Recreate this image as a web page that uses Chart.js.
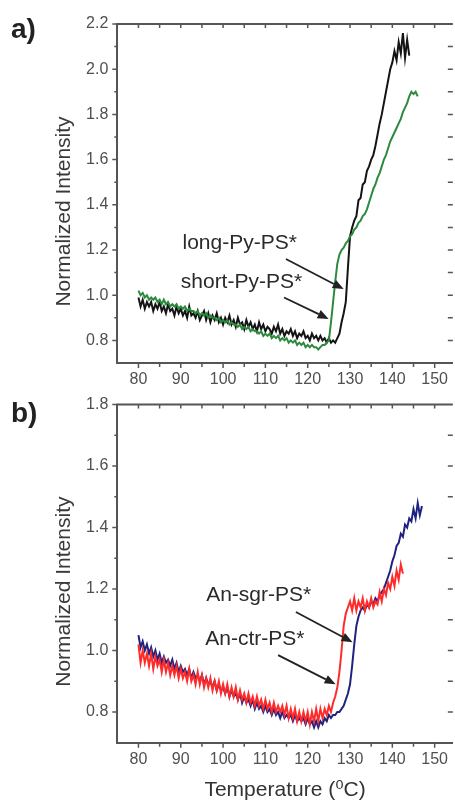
<!DOCTYPE html>
<html><head><meta charset="utf-8">
<script src="https://cdn.jsdelivr.net/npm/chart.js@4.4.1/dist/chart.umd.min.js"></script>
<style>
html,body{margin:0;padding:0;background:#fff;width:455px;height:801px;overflow:hidden}
canvas{position:absolute;left:0}
#ca{top:0}
#cb{top:386px}
</style></head><body>
<canvas id="ca" width="455" height="386"></canvas>
<canvas id="cb" width="455" height="415"></canvas>
<script>
// Temperature (°C), shared sampling of all four traces
const temps = [
80,80.5,81,81.5,82,82.5,83,83.5,84,84.5,85,85.5,86,86.5,87,87.5,88,88.5,89,89.5,
90,90.5,91,91.5,92,92.5,93,93.5,94,94.5,95,95.5,96,96.5,97,97.5,98,98.5,99,99.5,
100,100.5,101,101.5,102,102.5,103,103.5,104,104.5,105,105.5,106,106.5,107,107.5,108,108.5,109,109.5,
110,110.5,111,111.5,112,112.5,113,113.5,114,114.5,115,115.5,116,116.5,117,117.5,118,118.5,119,119.5,
120,120.5,121,121.5,122,122.5,123,123.5,124,124.5,125,125.5,126,126.5,127,127.5,128,128.5,129,129.5,
130,130.5,131,131.5,132,132.5,133,133.5,134,134.5,135,135.5,136,136.5,137,137.5,138,138.5,139,139.5,
140,140.5,141,141.5,142,142.5,143,143.5,144,144.5,145,145.5,146,146.5,147];

// Panel a
const longPyPS = [
0.99,0.95,0.98,0.94,0.97,0.95,0.97,0.93,0.96,0.94, 0.97,0.93,0.95,0.92,0.96,0.93,0.94,0.91,0.95,0.92,
0.94,0.91,0.93,0.90,0.95,0.91,0.92,0.90,0.93,0.89, 0.91,0.93,0.89,0.92,0.88,0.91,0.89,0.92,0.88,0.90,
0.87,0.90,0.88,0.91,0.87,0.89,0.86,0.90,0.87,0.88, 0.85,0.89,0.86,0.88,0.85,0.87,0.84,0.88,0.85,0.87,
0.84,0.86,0.85,0.83,0.86,0.84,0.87,0.83,0.85,0.82, 0.84,0.83,0.85,0.82,0.84,0.81,0.83,0.82,0.84,0.81,
0.82,0.80,0.83,0.81,0.82,0.80,0.82,0.80,0.81,0.79, 0.81,0.79,0.80,0.79,0.81,0.83,0.88,0.92,0.97,1.12,
1.26,1.30,1.33,1.35,1.42,1.43,1.49,1.50,1.55,1.57, 1.60,1.62,1.66,1.71,1.76,1.80,1.85,1.90,1.95,2.00,
2.03,2.08,2.04,2.12,2.07,2.16,2.05,2.13,2.06];
const shortPyPS = [
1.02,1.00,1.01,0.99,1.00,0.98,0.99,0.98,0.99,0.97, 0.98,0.96,0.98,0.96,0.97,0.95,0.96,0.95,0.96,0.94,
0.95,0.94,0.95,0.93,0.94,0.93,0.93,0.92,0.93,0.91, 0.92,0.91,0.92,0.90,0.91,0.90,0.90,0.89,0.90,0.88,
0.89,0.88,0.89,0.87,0.88,0.87,0.87,0.86,0.87,0.85, 0.86,0.85,0.86,0.84,0.85,0.84,0.84,0.83,0.84,0.82,
0.83,0.82,0.83,0.81,0.82,0.81,0.82,0.80,0.81,0.80, 0.81,0.79,0.80,0.79,0.80,0.78,0.79,0.78,0.79,0.77,
0.78,0.77,0.78,0.77,0.77,0.76,0.77,0.78,0.78,0.79, 0.80,0.88,0.97,1.06,1.14,1.18,1.20,1.21,1.23,1.24,
1.26,1.27,1.29,1.30,1.32,1.33,1.35,1.36,1.38,1.41, 1.44,1.47,1.49,1.52,1.54,1.57,1.60,1.62,1.65,1.68,
1.70,1.72,1.74,1.76,1.78,1.81,1.83,1.85,1.88,1.90,1.89,1.90,1.88];

// Panel b
const anCtrPS = [
1.02,0.96,1.00,0.96,0.99,0.95,0.99,0.94,0.98,0.95, 0.97,0.93,0.97,0.93,0.96,0.92,0.95,0.92,0.95,0.91,
0.94,0.91,0.93,0.90,0.94,0.90,0.92,0.89,0.93,0.89, 0.92,0.88,0.91,0.88,0.91,0.87,0.90,0.87,0.90,0.86,
0.89,0.86,0.89,0.85,0.88,0.85,0.88,0.84,0.87,0.84, 0.86,0.83,0.86,0.83,0.85,0.82,0.85,0.82,0.84,0.81,
0.84,0.81,0.83,0.80,0.83,0.80,0.82,0.80,0.82,0.79, 0.82,0.78,0.81,0.78,0.81,0.77,0.80,0.77,0.80,0.77,
0.80,0.76,0.80,0.77,0.81,0.77,0.81,0.78,0.81,0.79, 0.82,0.80,0.83,0.85,0.88,0.93,1.00,1.08,1.12,1.14,
1.16,1.13,1.17,1.13,1.16,1.14,1.17,1.13,1.16,1.14, 1.17,1.14,1.16,1.15,1.19,1.16,1.20,1.18,1.22,1.20,
1.24,1.21,1.26,1.23,1.28,1.25];
const anSgrPS = [
1.05,1.01,1.03,1.00,1.02,0.99,1.01,0.98,1.00,0.97, 0.99,0.96,0.98,0.96,0.97,0.95,0.97,0.94,0.96,0.93,
0.95,0.93,0.94,0.92,0.94,0.91,0.93,0.91,0.92,0.90, 0.92,0.89,0.91,0.89,0.90,0.88,0.90,0.87,0.89,0.87,
0.88,0.86,0.88,0.85,0.87,0.85,0.86,0.84,0.86,0.83, 0.85,0.83,0.84,0.82,0.84,0.81,0.83,0.81,0.82,0.80,
0.82,0.80,0.81,0.79,0.81,0.79,0.80,0.78,0.80,0.78, 0.79,0.78,0.79,0.77,0.79,0.77,0.78,0.77,0.78,0.76,
0.78,0.76,0.77,0.75,0.77,0.75,0.77,0.76,0.78,0.77, 0.79,0.78,0.79,0.79,0.80,0.80,0.81,0.82,0.84,0.86,
0.89,0.95,1.02,1.08,1.11,1.13,1.14,1.13,1.15,1.14, 1.16,1.15,1.17,1.16,1.18,1.19,1.20,1.22,1.24,1.26,
1.29,1.31,1.34,1.35,1.38,1.37,1.41,1.40,1.43,1.42,1.46,1.43,1.48,1.44,1.47];

const xTicks = [80,90,100,110,120,130,140,150];
const yTicksA = [0.8,1.0,1.2,1.4,1.6,1.8,2.0,2.2];
const yTicksB = [0.8,1.0,1.2,1.4,1.6,1.8];

const FONT = "'Liberation Sans', Arial, 'DejaVu Sans', sans-serif";
const AXIS = '#555';
Chart.defaults.font.family = FONT;

function pts(vals){ return vals.map((v,i)=>({x:temps[i], y:v})); }

const decor = {
  id:'decor',
  afterDraw(chart, args, o){
    const {ctx, chartArea:a, scales:{x,y}} = chart;
    ctx.save();
    ctx.strokeStyle = AXIS; ctx.lineWidth = 2;
    ctx.beginPath();
    ctx.moveTo(a.left-1, a.top); ctx.lineTo(a.right, a.top);
    ctx.stroke();
    ctx.lineWidth = 1.5;
    ctx.beginPath();
    for (let v = 80; v <= 150; v += 5){
      const px = x.getPixelForValue(v);
      const major = v % 10 === 0;
      ctx.moveTo(px, a.bottom); ctx.lineTo(px, a.bottom + (major?5:4));
      ctx.moveTo(px, a.top); ctx.lineTo(px, a.top + 4);
    }
    for (let k = Math.round(y.min*10)+1; k <= Math.round(y.max*10); k++){
      const py = y.getPixelForValue(k/10);
      const major = k % 2 === 0;
      ctx.moveTo(a.left, py); ctx.lineTo(a.left - (major?5:3), py);
      if (k < Math.round(y.max*10)) { ctx.moveTo(a.right, py); ctx.lineTo(a.right - 5, py); }
    }
    ctx.stroke();
    // arrows
    ctx.strokeStyle = '#222'; ctx.fillStyle = '#222'; ctx.lineWidth = 1.8;
    for (const ar of o.arrows){
      const x1 = x.getPixelForValue(ar.from[0]), y1 = y.getPixelForValue(ar.from[1]);
      const x2 = x.getPixelForValue(ar.to[0]), y2 = y.getPixelForValue(ar.to[1]);
      const ang = Math.atan2(y2-y1, x2-x1), L = 11, W = 4.5;
      const bx = x2 - L*Math.cos(ang), by = y2 - L*Math.sin(ang);
      ctx.beginPath(); ctx.moveTo(x1,y1); ctx.lineTo(bx,by); ctx.stroke();
      ctx.beginPath(); ctx.moveTo(x2,y2);
      ctx.lineTo(bx + W*Math.sin(ang), by - W*Math.cos(ang));
      ctx.lineTo(bx - W*Math.sin(ang), by + W*Math.cos(ang));
      ctx.closePath(); ctx.fill();
    }
    // labels
    ctx.fillStyle = '#2a2a2a'; ctx.font = '21px ' + FONT;
    ctx.textAlign = 'left'; ctx.textBaseline = 'middle';
    for (const t of o.labels){
      ctx.fillText(t.text, x.getPixelForValue(t.x), y.getPixelForValue(t.y));
    }
    // y title
    ctx.save();
    ctx.translate(64, (a.top + a.bottom)/2 + 18);
    ctx.rotate(-Math.PI/2);
    ctx.fillStyle = '#3a3a3a'; ctx.font = '21px ' + FONT;
    ctx.textAlign = 'center'; ctx.textBaseline = 'middle';
    ctx.fillText('Normalized Intensity', 0, 0);
    ctx.restore();
    // panel letter
    ctx.fillStyle = '#222'; ctx.font = 'bold 28px ' + FONT;
    ctx.textAlign = 'left'; ctx.textBaseline = 'alphabetic';
    ctx.fillText(o.panel, 11, o.panelY);
    ctx.restore();
  }
};

function makeChart(id, cfg){
  const xs = {
    type:'linear', min:75, max:154.3,
    grid:{display:false, drawTicks:false},
    border:{display:true, color:AXIS, width:2},
    ticks:{color:'#505050', font:{size:16}, padding:7, autoSkip:false, maxRotation:0,
           callback:v=>String(v)},
    afterBuildTicks:s=>{ s.ticks = xTicks.map(v=>({value:v})); },
    afterFit:s=>{ s.height = cfg.xHeight; },
    title: cfg.xTitle ? {display:true, text:'Temperature (\u2070C)', color:'#333',
            font:{size:21, lineHeight:1}, padding:{top:0,bottom:0}} : {display:false}
  };
  const ys = {
    type:'linear', min:0.7, max:cfg.yMax,
    grid:{display:false, drawTicks:false},
    border:{display:true, color:AXIS, width:2},
    ticks:{color:'#505050', font:{size:16}, padding:9, callback:v=>v.toFixed(1)},
    afterBuildTicks:s=>{ s.ticks = cfg.yTicks.map(v=>({value:v})); },
    afterFit:s=>{ s.width = 117.3; }
  };
  return new Chart(document.getElementById(id), {
    type:'line',
    data:{datasets: cfg.series.map(s=>({
      label:s.label, data:pts(s.vals), borderColor:s.color, borderWidth:2,
      borderJoinStyle:'miter', pointRadius:0, tension:0, fill:false
    }))},
    options:{
      responsive:false, animation:false, devicePixelRatio:1,
      layout:{padding:{left:0, right:0, top:cfg.top, bottom:0}},
      scales:{x:xs, y:ys},
      plugins:{legend:{display:false}, tooltip:{enabled:false},
        decor:{panel:cfg.panel, panelY:cfg.panelY, labels:cfg.labels, arrows:cfg.arrows}}
    },
    plugins:[decor]
  });
}

makeChart('ca', {
  top:24, xHeight:23, yMax:2.2, yTicks:yTicksA, xTitle:false, panel:'a)', panelY:38,
  series:[
    {label:'short-Py-PS*', vals:shortPyPS, color:'#2b8a3e'},
    {label:'long-Py-PS*', vals:longPyPS, color:'#141414'}
  ],
  labels:[{text:'long-Py-PS*', x:90.4, y:1.231},{text:'short-Py-PS*', x:90.0, y:1.058}],
  arrows:[{from:[114.85,1.16], to:[128.5,1.027]},{from:[114.4,0.99], to:[124.95,0.895]}]
});
makeChart('cb', {
  top:18.3, xHeight:58.3, yMax:1.8, yTicks:yTicksB, xTitle:true, panel:'b)', panelY:36,
  series:[
    {label:'An-ctr-PS*', vals:anCtrPS, color:'#ff2a2a'},
    {label:'An-sgr-PS*', vals:anSgrPS, color:'#1f237f'}
  ],
  labels:[{text:'An-sgr-PS*', x:96.0, y:1.180},{text:'An-ctr-PS*', x:95.8, y:1.037}],
  arrows:[{from:[117.2,1.125], to:[130.6,1.027]},{from:[113.0,0.985], to:[126.6,0.890]}]
});
</script>
</body></html>
